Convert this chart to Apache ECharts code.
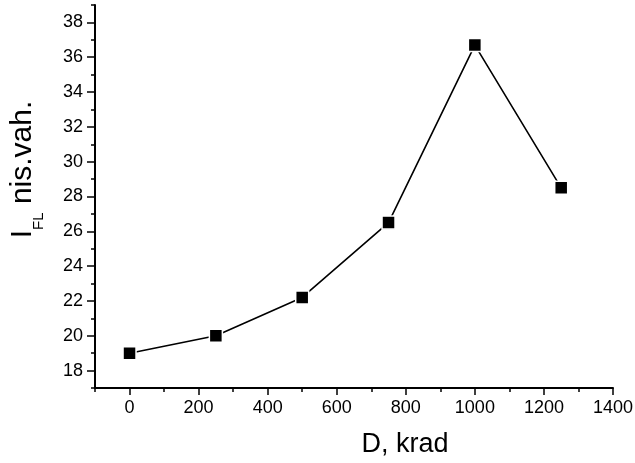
<!DOCTYPE html>
<html>
<head>
<meta charset="utf-8">
<script src="https://cdn.jsdelivr.net/npm/echarts@6/dist/echarts.min.js"></script>
<style>
  html, body { margin: 0; padding: 0; background: #fff; }
  #chart { width: 635px; height: 463px; }
</style>
</head>
<body>
<div id="chart"></div>
<script>
// dose, krad
const doses = [0, 250, 500, 750, 1000, 1250]
// I_FL, arb. units
const intensity = [19.0, 20.0, 22.2, 26.5, 36.7, 28.5]

const xMajorTicks = [0, 200, 400, 600, 800, 1000, 1200, 1400]
const xMinorTicks = [-100, 100, 300, 500, 700, 900, 1100, 1300]
const yMajorTicks = [18, 20, 22, 24, 26, 28, 30, 32, 34, 36, 38]
const yMinorTicks = [17, 19, 21, 23, 25, 27, 29, 31, 33, 35, 37, 39]

const FONT = '"Liberation Sans", Arial, sans-serif'
const axisLine = { show: true, onZero: false, lineStyle: { color: '#000', width: 2 } }

const chart = echarts.init(document.getElementById('chart'))

chart.setOption({
  animation: false,
  backgroundColor: '#fff',
  textStyle: { fontFamily: FONT, color: '#000' },
  grid: { left: 95, right: 22, top: 5, bottom: 75, outerBoundsMode: 'none', containLabel: false },
  xAxis: [
    {
      type: 'value',
      position: 'bottom',
      min: -100,
      max: 1400,
      interval: 100,
      axisLine: axisLine,
      splitLine: { show: false },
      axisTick: {
        customValues: xMajorTicks,
        length: 7,
        lineStyle: { color: '#000', width: 1.5 },
      },
      axisLabel: {
        customValues: xMajorTicks,
        formatter: v => String(v),
        margin: 11,
        fontSize: 18,
        fontFamily: FONT,
        color: '#000',
      },
      name: 'D, krad',
      nameLocation: 'middle',
      nameGap: 43,
      nameTextStyle: {
        fontSize: 27,
        fontFamily: FONT,
        color: '#000',
        padding: [0, 0, 0, 102],
      },
    },
    {
      type: 'value',
      position: 'bottom',
      min: -100,
      max: 1400,
      interval: 100,
      axisLine: { show: false, onZero: false },
      splitLine: { show: false },
      axisLabel: { show: false },
      axisTick: {
        customValues: xMinorTicks,
        length: 4,
        lineStyle: { color: '#000', width: 1.5 },
      },
    },
  ],
  yAxis: [
    {
      type: 'value',
      position: 'left',
      min: 17,
      max: 39,
      interval: 1,
      axisLine: axisLine,
      splitLine: { show: false },
      axisTick: {
        customValues: yMajorTicks,
        length: 8,
        lineStyle: { color: '#000', width: 1.5 },
      },
      axisLabel: {
        customValues: yMajorTicks,
        formatter: v => String(v),
        margin: 12,
        fontSize: 18,
        fontFamily: FONT,
        color: '#000',
      },
      name: '{i|I}{s|FL}{n| nis.vah.}',
      nameLocation: 'middle',
      nameRotate: 90,
      nameGap: 49,
      nameTextStyle: {
        fontFamily: FONT,
        color: '#000',
        padding: [0, 0, 0, 54],
        rich: {
          i: { fontSize: 30, fontFamily: FONT, color: '#000', verticalAlign: 'bottom', padding: [0, 0, 8, 0] },
          s: { fontSize: 15, fontFamily: FONT, color: '#000', verticalAlign: 'bottom' },
          n: { fontSize: 30, fontFamily: FONT, color: '#000', verticalAlign: 'bottom', padding: [0, 0, 8, 0] },
        },
      },
    },
    {
      type: 'value',
      position: 'left',
      min: 17,
      max: 39,
      interval: 1,
      axisLine: { show: false, onZero: false },
      splitLine: { show: false },
      axisLabel: { show: false },
      axisTick: {
        customValues: yMinorTicks,
        length: 4,
        lineStyle: { color: '#000', width: 1.5 },
      },
    },
  ],
  series: [
    {
      type: 'line',
      data: doses.map((d, i) => [d, intensity[i]]),
      symbol: 'rect',
      symbolSize: 13,
      showAllSymbol: true,
      itemStyle: { color: '#000', borderColor: '#fff', borderWidth: 1.5 },
      lineStyle: { color: '#000', width: 1.6 },
      z: 3,
    },
  ],
})
</script>
</body>
</html>
